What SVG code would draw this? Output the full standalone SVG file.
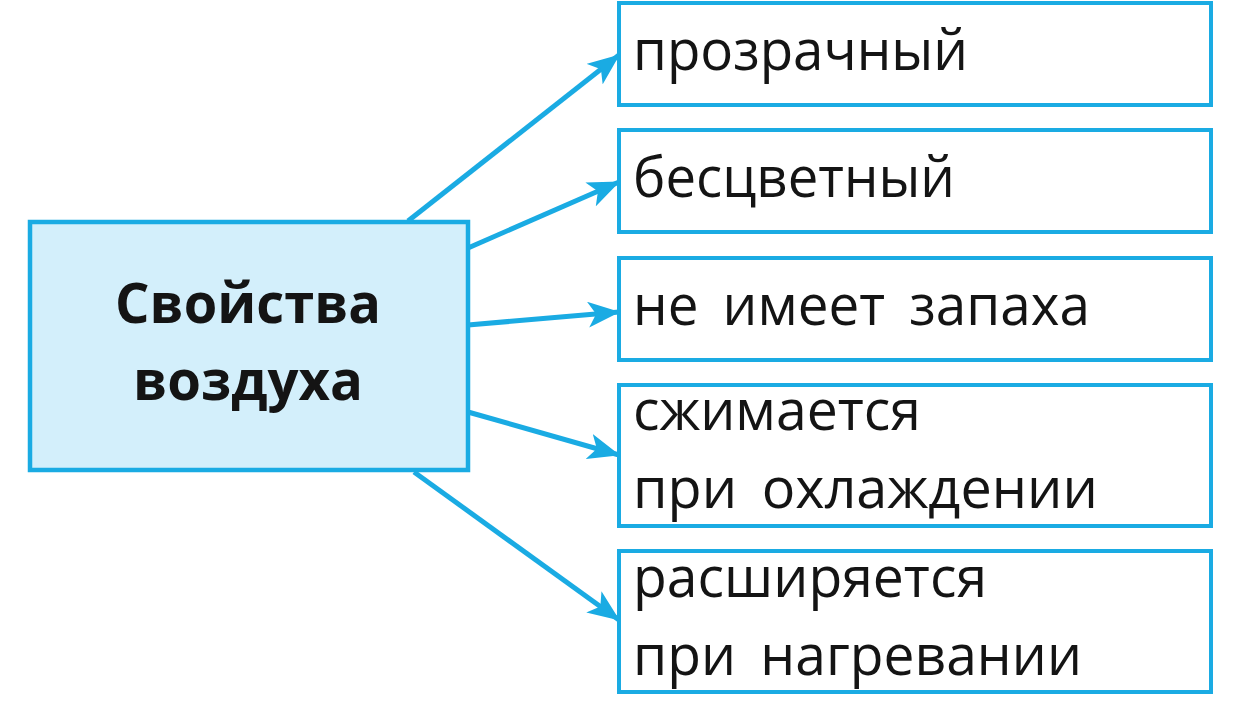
<svg xmlns="http://www.w3.org/2000/svg" width="1234" height="714" viewBox="0 0 1234 714">
<style>
.box{fill:#ffffff;stroke:#1aabe3;stroke-width:4}
.main{fill:#d3effb;stroke:#1aabe3;stroke-width:4.5}
.t{font-family:"Open Sans","Noto Sans",sans-serif;font-size:56px;fill:#141414;word-spacing:10px}
.b{font-family:"Open Sans","Noto Sans",sans-serif;font-size:56px;font-weight:bold;fill:#141414;text-anchor:middle}
.c{stroke:#1aabe3;stroke-width:5;fill:none;marker-end:url(#ah)}
</style>
<defs>
<marker id="ah" markerUnits="userSpaceOnUse" viewBox="0 0 32 26" refX="31" refY="13" markerWidth="32" markerHeight="26" orient="auto">
<path d="M0,0 L32,13 L0,26 L8,13 Z" fill="#1aabe3"/>
</marker>
</defs>
<rect width="1234" height="714" fill="#ffffff"/>
<g id="connectors">
<line class="c" x1="408" y1="221" x2="619" y2="55"/>
<line class="c" x1="468" y1="248" x2="619" y2="182"/>
<line class="c" x1="468" y1="325" x2="619" y2="312"/>
<line class="c" x1="468" y1="412" x2="619" y2="455"/>
<line class="c" x1="414" y1="472" x2="619" y2="620"/>
</g>
<g id="main">
<rect class="main" x="30" y="222" width="438" height="248"/>
<text class="b" x="248" y="323" textLength="266" lengthAdjust="spacingAndGlyphs">Свойства</text>
<text class="b" x="248" y="400" textLength="230" lengthAdjust="spacingAndGlyphs">воздуха</text>
</g>
<g id="n1">
<rect class="box" x="619" y="3" width="592" height="102"/>
<text class="t" x="633" y="70" textLength="335" lengthAdjust="spacingAndGlyphs">прозрачный</text>
</g>
<g id="n2">
<rect class="box" x="619" y="130" width="592" height="102"/>
<text class="t" x="633" y="197" textLength="322" lengthAdjust="spacingAndGlyphs">бесцветный</text>
</g>
<g id="n3">
<rect class="box" x="619" y="258" width="592" height="102"/>
<text class="t" x="633" y="325" textLength="457" lengthAdjust="spacingAndGlyphs">не имеет запаха</text>
</g>
<g id="n4">
<rect class="box" x="619" y="385" width="592" height="141"/>
<text class="t" x="633" y="430" textLength="288" lengthAdjust="spacingAndGlyphs">сжимается</text>
<text class="t" x="633" y="508" textLength="465" lengthAdjust="spacingAndGlyphs">при охлаждении</text>
</g>
<g id="n5">
<rect class="box" x="619" y="551" width="592" height="141"/>
<text class="t" x="633" y="597" textLength="354" lengthAdjust="spacingAndGlyphs">расширяется</text>
<text class="t" x="633" y="675" textLength="449" lengthAdjust="spacingAndGlyphs">при нагревании</text>
</g>
</svg>
